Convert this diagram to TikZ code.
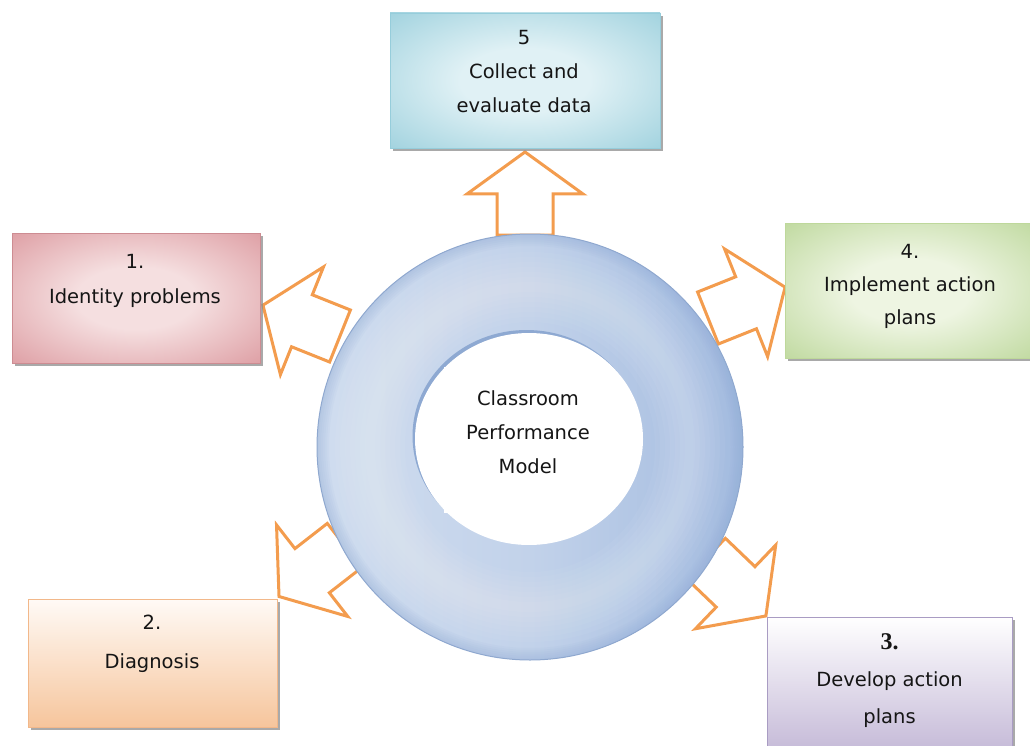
\documentclass[tikz,border=0pt]{standalone}
\usepackage{fontspec}
\setmainfont{DejaVu Sans}
\newfontfamily\numserif{Liberation Serif}
\usetikzlibrary{shadows}
\definecolor{arrowc}{HTML}{F39C4E}
\definecolor{ringedge}{HTML}{8FA8CF}
\definecolor{rimc}{HTML}{8EA9D2}
\definecolor{txt}{HTML}{151515}
\definecolor{ringL}{HTML}{D0DDEF}
\definecolor{ringD}{HTML}{A3BBDF}
\definecolor{ringX}{HTML}{8DA9D6}
\definecolor{bIn}{HTML}{E0F1F5}\definecolor{bOut}{HTML}{8CC8D7}
\definecolor{rIn}{HTML}{F5DFE0}\definecolor{rOut}{HTML}{D68990}
\definecolor{gIn}{HTML}{EEF5E2}\definecolor{gOut}{HTML}{B0D089}
\pgfdeclareradialshading{glowblue}{\pgfpoint{0bp}{0bp}}{color(0bp)=(bIn); color(12bp)=(bIn); color(44bp)=(bOut); color(72bp)=(bOut)}
\pgfdeclareradialshading{glowred}{\pgfpoint{0bp}{0bp}}{color(0bp)=(rIn); color(12bp)=(rIn); color(44bp)=(rOut); color(72bp)=(rOut)}
\pgfdeclareradialshading{glowgreen}{\pgfpoint{0bp}{0bp}}{color(0bp)=(gIn); color(12bp)=(gIn); color(44bp)=(gOut); color(72bp)=(gOut)}
\tikzset{
  barrow/.pic={\draw[draw=arrowc, fill=white, line width=3pt, line join=miter]
     (0,-28) -- (41,-28) -- (41,-58) -- (83,0) -- (41,58) -- (41,28) -- (0,28) -- cycle;},
  boxbase/.style={rectangle, inner sep=0pt, line width=0.8pt,
     drop shadow={shadow xshift=3pt, shadow yshift=-3pt, fill=black!45, opacity=0.75}},
  boxtext/.style={align=center, text=txt, inner sep=0pt},
}
\begin{document}
\begin{tikzpicture}[x=1pt,y=-1pt]
\useasboundingbox (0,0) rectangle (1030,746);
% block arrows
\pic[rotate=90] at (525,235) {barrow};
\pic[rotate=158.2] at (340,336) {barrow};
\pic[rotate=21.8] at (708,318) {barrow};
\pic[rotate=-142.1] at (344.5,545.5) {barrow};
\pic[rotate=-43.8] at (706,558.5) {barrow};
% ring
\shade[left color=ringL, right color=ringD, middle color={rgb,255:red,194;green,210;blue,234}]
  (530,447) circle (213);
\begin{scope}
  \clip (530,447) circle (213);
  \foreach \w in {10,20,...,70} {
    \draw[white, opacity=0.045, line width=\w pt] (530,447) circle (160);
  }
  \foreach \w in {4,8,...,24} {
    \draw[ringX, opacity=0.07, line width=\w pt] (530,447) circle (213);
  }
\end{scope}
\draw[ringedge, line width=1pt] (530,447) circle (213);
\fill[rimc] (526.5,436) ellipse (114 and 106);
\fill[white] (529,439) ellipse (114 and 106);
\fill[white] (444,367) rectangle (600,513);
\node[boxtext, font=\fontsize{19.5}{34}\selectfont] (center) at (528,432)
  {Classroom\\Performance\\Model};
% boxes
\node[boxbase, minimum width=270pt, minimum height=135pt,
      draw={rgb,255:red,150;green,205;blue,219}, shading=glowblue] (b5) at (525,80.5) {};
\node[boxbase, minimum width=248pt, minimum height=130pt,
      draw={rgb,255:red,205;green,140;blue,146}, shading=glowred] (b1) at (136,298) {};
\node[boxbase, minimum width=250pt, minimum height=135pt,
      draw={rgb,255:red,190;green,216;blue,155}, shading=glowgreen] (b4) at (910,290.5) {};
\node[boxbase, minimum width=249pt, minimum height=128pt,
      draw={rgb,255:red,242;green,184;blue,138},
      top color={rgb,255:red,255;green,250;blue,246},
      bottom color={rgb,255:red,246;green,197;blue,156}] (b2) at (152.5,663) {};
\node[boxbase, minimum width=245pt, minimum height=130pt,
      draw={rgb,255:red,169;green,156;blue,195},
      top color=white,
      bottom color={rgb,255:red,199;green,188;blue,217}] (b3) at (889.5,682) {};
% box texts
\node[boxtext, font=\fontsize{19.5}{34}\selectfont] (t5) at (524,72)
  {5\\Collect and\\evaluate data};
\node[boxtext, font=\fontsize{19.5}{35}\selectfont] (t1) at (135,280.5)
  {1.\\Identity problems};
\node[boxtext, font=\fontsize{19.5}{33}\selectfont] (t4) at (910,286)
  {4.\\Implement action\\plans};
\node[boxtext, font=\fontsize{19.5}{39}\selectfont] (t2) at (152,644)
  {2.\\Diagnosis};
\node[boxtext, font=\fontsize{19.5}{37}\selectfont] (t3) at (889.5,681)
  {{\numserif\bfseries\fontsize{24}{37}\selectfont 3.}\\Develop action\\plans};
\end{tikzpicture}
\end{document}
